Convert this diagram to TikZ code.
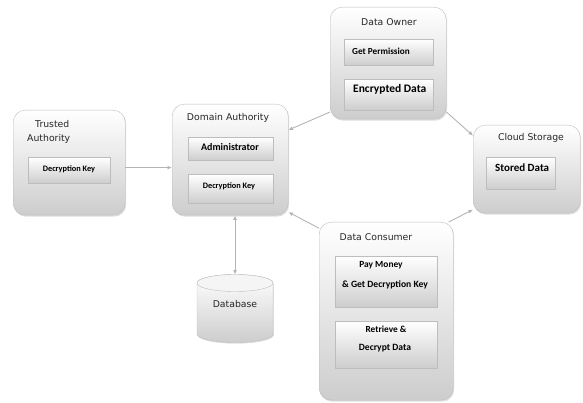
\documentclass[tikz,border=0pt]{standalone}
\usepackage{fontspec}
\setmainfont{DejaVu Sans}
\newfontfamily\boldin{Carlito}
\usetikzlibrary{shadows,arrows.meta}
\definecolor{bordergray}{HTML}{BDBDBD}
\definecolor{shadebottom}{HTML}{CDCDCD}
\definecolor{arrowgray}{HTML}{B4B4B4}
\tikzset{
 outerbox/.style={draw=bordergray, rounded corners=12pt, top color=white, bottom color=shadebottom, anchor=north west, inner sep=0pt, drop shadow={shadow xshift=1pt, shadow yshift=-1.5pt, opacity=0.25}},
 innerbox/.style={draw=bordergray, top color=white, bottom color=shadebottom, anchor=north west, inner sep=0pt, drop shadow={shadow xshift=0.8pt, shadow yshift=-1.2pt, opacity=0.3}},
 titletext/.style={font=\fontsize{9.3}{14}\selectfont, inner sep=0pt, text=black!85},
 intext/.style={font=\boldin\bfseries\fontsize{#1}{20}\selectfont, inner sep=0pt},
 intext/.default=9.3,
 conn/.style={draw=arrowgray, line width=0.9pt, -{Latex[length=4.5pt,width=4pt]}},
 conn2/.style={draw=arrowgray, line width=0.9pt, {Latex[length=4.5pt,width=4pt]}-{Latex[length=4.5pt,width=4pt]}},
}
\begin{document}
\begin{tikzpicture}[x=1pt,y=-1pt]
\useasboundingbox (0,0) rectangle (583,403);
% outer boxes
\node[outerbox, minimum width=112pt, minimum height=105pt] (ta) at (13,110) {};
\node[outerbox, minimum width=116pt, minimum height=111pt] (da) at (172,104) {};
\node[outerbox, minimum width=116pt, minimum height=112pt] (do) at (330,7) {};
\node[outerbox, minimum width=107pt, minimum height=88pt] (cs) at (473,125) {};
\node[outerbox, minimum width=134pt, minimum height=178pt] (dc) at (319,222) {};
% inner boxes
\node[innerbox, minimum width=82pt, minimum height=26pt] (ta1) at (28,157) {};
\node[innerbox, minimum width=85pt, minimum height=23pt] (da1) at (188,137) {};
\node[innerbox, minimum width=85pt, minimum height=29pt] (da2) at (188,174) {};
\node[innerbox, minimum width=89pt, minimum height=26pt] (do1) at (344,39) {};
\node[innerbox, minimum width=89pt, minimum height=31pt] (do2) at (344,79) {};
\node[innerbox, minimum width=69pt, minimum height=32pt] (cs1) at (486,157) {};
\node[innerbox, minimum width=102pt, minimum height=51pt] (dc1) at (335,256) {};
\node[innerbox, minimum width=102pt, minimum height=47pt] (dc2) at (335,321) {};
% database cylinder
\path[top color=white, bottom color=shadebottom, draw=bordergray, drop shadow={shadow xshift=0.8pt, shadow yshift=-1.2pt, opacity=0.25}]
  (197,283) -- (197,334) arc[start angle=180, end angle=360, x radius=38pt, y radius=8.5pt]
  -- (273,283) arc[start angle=0, end angle=180, x radius=38pt, y radius=8.5pt] -- cycle;
\draw[draw=bordergray, fill=white!96!black] (235,283) ellipse[x radius=38pt, y radius=8.5pt];
\coordinate (dbtop) at (235,274.5);
% titles
\node[titletext, anchor=west, align=left] (tat) at (27,132) {\hspace*{8pt}Trusted\\Authority};
\node[titletext] (dat) at (228,118) {Domain Authority};
\node[titletext] (dot) at (389,22) {Data Owner};
\node[titletext] (cst) at (531,138) {Cloud Storage};
\node[titletext] (dct) at (376,237) {Data Consumer};
\node[titletext] (dbt) at (235,304) {Database};
% inner texts
\node[intext=8.3] (ta1t) at (69,169) {Decryption Key};
\node[intext=10] (da1t) at (230,147) {Administrator};
\node[intext=8.3] (da2t) at (229,186) {Decryption Key};
\node[intext=9.2, anchor=west] (do1t) at (352,51) {Get Permission};
\node[intext=11.5, anchor=west] (do2t) at (353,89) {Encrypted Data};
\node[intext=11, anchor=west] (cs1t) at (495,168) {Stored Data};
\node[intext=9.4] (dc1a) at (381,265) {Pay Money};
\node[intext=9.6] (dc1b) at (385,285) {\& Get Decryption Key};
\node[intext=9.3] (dc2a) at (386,329) {Retrieve \&};
\node[intext=9.6] (dc2b) at (385,348) {Decrypt Data};
% connectors
\draw[conn] (ta.-5) -- (ta.-5 -| da.west);
\draw[conn] (do.220) -- (da.27);
\draw[conn] (do.-40) -- (cs.148);
\draw[conn] (dc.129) -- (da.-42);
\draw[conn] (dc.55) -- (cs.217);
\draw[conn2] (da.south -| dbtop) -- (dbtop);
\end{tikzpicture}
\end{document}
